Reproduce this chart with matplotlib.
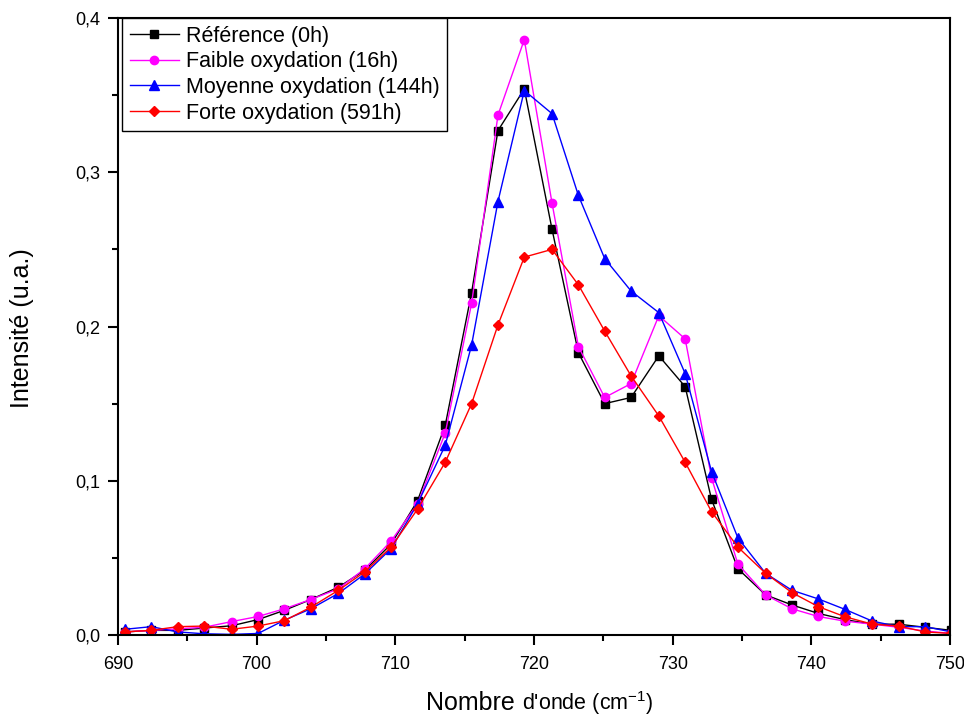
import matplotlib
matplotlib.use("Agg")
import matplotlib.pyplot as plt
from matplotlib.ticker import MultipleLocator, FuncFormatter

plt.rcParams['font.family'] = ['Liberation Sans', 'DejaVu Sans']
plt.rcParams['mathtext.default'] = 'regular'

# nombre d'onde (cm-1)
wavenumber = [690.5, 692.4, 694.3, 696.2, 698.2, 700.1, 702.0, 703.9, 705.9, 707.8,
              709.7, 711.6, 713.6, 715.5, 717.4, 719.3, 721.3, 723.2, 725.1, 727.0,
              729.0, 730.9, 732.8, 734.7, 736.7, 738.6, 740.5, 742.4, 744.4, 746.3,
              748.2, 750.1]

ref_0h = [0.002, 0.003, 0.003, 0.0045, 0.006, 0.010, 0.016, 0.023, 0.031, 0.042,
          0.059, 0.087, 0.136, 0.222, 0.327, 0.354, 0.263, 0.183, 0.150, 0.154,
          0.181, 0.161, 0.088, 0.043, 0.026, 0.0195, 0.014, 0.010, 0.007, 0.007,
          0.005, 0.003]

faible_16h = [0.002, 0.003, 0.004, 0.005, 0.0087, 0.012, 0.017, 0.023, 0.030, 0.043,
              0.061, 0.085, 0.131, 0.215, 0.337, 0.386, 0.280, 0.187, 0.154, 0.163,
              0.207, 0.192, 0.102, 0.046, 0.026, 0.017, 0.012, 0.009, 0.007, 0.005,
              0.0026, 0.001]

moyenne_144h = [0.0037, 0.0054, 0.002, 0.0008, 0.0004, 0.001, 0.0096, 0.017, 0.027, 0.0396,
                0.056, 0.085, 0.123, 0.188, 0.281, 0.353, 0.338, 0.285, 0.244, 0.223,
                0.209, 0.1695, 0.106, 0.063, 0.040, 0.029, 0.0234, 0.0167, 0.009, 0.0054,
                0.0054, 0.002]

forte_591h = [0.002, 0.003, 0.0054, 0.0058, 0.0037, 0.0058, 0.0093, 0.018, 0.029, 0.041,
              0.057, 0.0816, 0.112, 0.150, 0.201, 0.245, 0.250, 0.227, 0.197, 0.168,
              0.142, 0.112, 0.080, 0.057, 0.040, 0.0275, 0.0184, 0.0119, 0.007, 0.0058,
              0.002, 0.001]

fig = plt.figure(figsize=(9.64, 7.18), dpi=100)
ax = fig.add_axes([0.1224, 0.1156, 0.8631, 0.8593])

ax.plot(wavenumber, ref_0h, color='black', marker='s', ms=5.5, lw=1, label='Référence (0h)')
ax.plot(wavenumber, faible_16h, color='#FF00FF', marker='o', ms=6, lw=1, label='Faible oxydation (16h)')
ax.plot(wavenumber, moyenne_144h, color='#0000FF', marker='^', ms=6.5, lw=1, label='Moyenne oxydation (144h)')
ax.plot(wavenumber, forte_591h, color='#FF0000', marker='D', ms=5.5, lw=1, label='Forte oxydation (591h)')

ax.set_xlim(690, 750)
ax.set_ylim(0, 0.4)
ax.xaxis.set_major_locator(MultipleLocator(10))
ax.xaxis.set_minor_locator(MultipleLocator(5))
ax.yaxis.set_major_locator(MultipleLocator(0.1))
ax.yaxis.set_minor_locator(MultipleLocator(0.05))
ax.yaxis.set_major_formatter(FuncFormatter(lambda v, p: f"{v:.1f}".replace('.', ',')))

ax.tick_params(which='both', direction='out', top=False, right=False, width=1.5)
ax.tick_params(which='major', length=7)
ax.tick_params(which='minor', length=4)
ax.tick_params(axis='x', labelsize=13, pad=8)
ax.tick_params(axis='y', labelsize=13, pad=6)
for s in ax.spines.values():
    s.set_linewidth(1.5)

ax.set_ylabel('Intensité (u.a.)', fontsize=18)
ax.yaxis.set_label_coords(-0.101, 0.497)

# x label : "Nombre" plus grand que le reste
fig.text(0.541, 0.0105, 'Nombre ', fontsize=18, ha='right', va='baseline')
fig.text(0.541, 0.0105, "d'onde (cm$^{-1}$)", fontsize=15.5, ha='left', va='baseline')

leg = ax.legend(loc='upper left', bbox_to_anchor=(0.005, 1.0), borderaxespad=0,
                fontsize=15.5, fancybox=False, framealpha=1, edgecolor='black',
                handlelength=2.3, handletextpad=0.3, labelspacing=0.22, borderpad=0.35)
leg.get_frame().set_linewidth(1)

fig.savefig('out.png', dpi=100)
